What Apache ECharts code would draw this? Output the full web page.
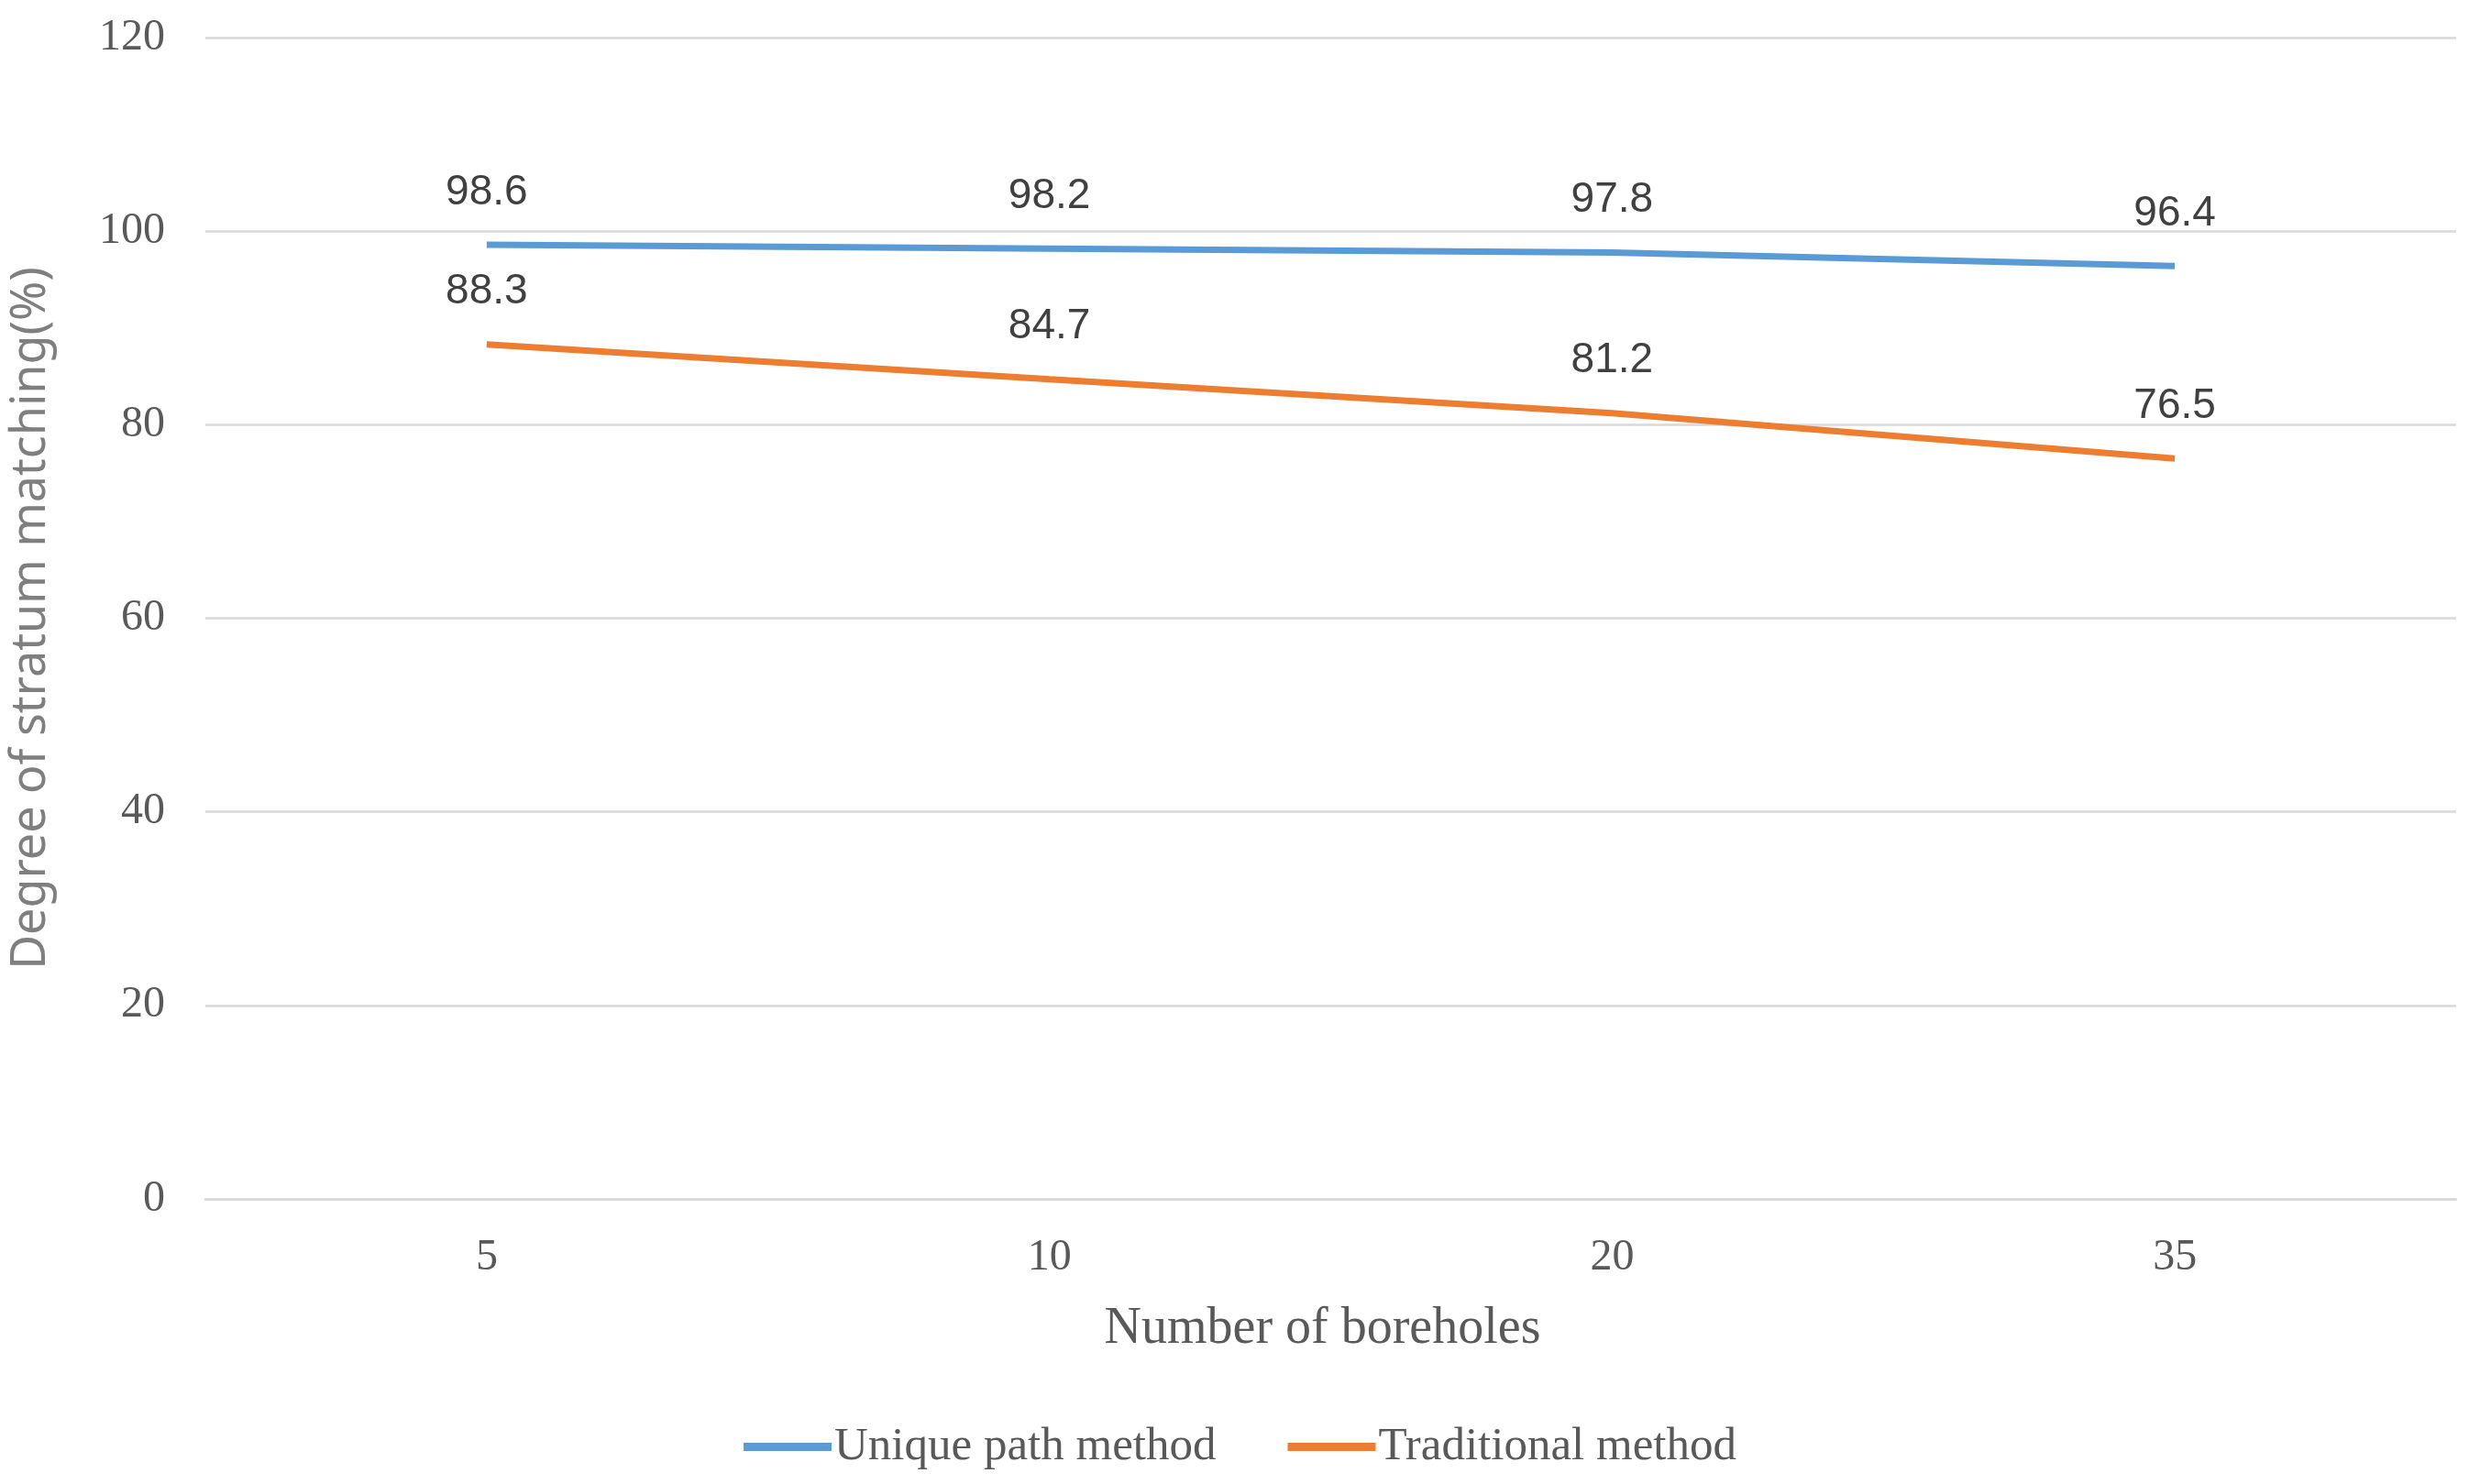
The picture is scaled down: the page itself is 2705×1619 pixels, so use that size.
<!DOCTYPE html>
<html>
<head>
<meta charset="utf-8">
<script src="https://cdn.jsdelivr.net/npm/echarts@6/dist/echarts.min.js"></script>
<style>
html,body{margin:0;padding:0;background:#fff;}
#chart{width:2705px;height:1619px;}
</style>
</head>
<body>
<div id="chart"></div>
<script>
const categories = ['5', '10', '20', '35'];
const uniquePath = [98.6, 98.2, 97.8, 96.4];
const traditional = [88.3, 84.7, 81.2, 76.5];
const seriesNames = ['Unique path method', 'Traditional method'];
const yTicks = { min: 0, max: 120, interval: 20 };

const serif = '"Liberation Serif", "Times New Roman", serif';
const sans = '"Liberation Sans", Arial, sans-serif';

const chart = echarts.init(document.getElementById('chart'));
const labelCfg = {
  show: true,
  position: 'top',
  distance: 34,
  fontFamily: sans,
  fontSize: 46,
  color: '#404040'
};
chart.setOption({
  animation: false,
  backgroundColor: '#ffffff',
  grid: { left: 216, right: 26, top: 41, bottom: 311, containLabel: false },
  legend: {
    data: seriesNames,
    left: 'center',
    top: 1548,
    icon: 'rect',
    itemWidth: 96,
    itemHeight: 9,
    itemGap: 78,
    textStyle: { fontFamily: serif, fontSize: 51, color: '#595959', padding: [0, 0, 0, -2] }
  },
  xAxis: {
    type: 'category',
    data: categories,
    boundaryGap: true,
    name: 'Number of boreholes',
    nameLocation: 'middle',
    nameGap: 114,
    nameTextStyle: { fontFamily: serif, fontSize: 56, color: '#595959', padding: [0, 18, 0, 0] },
    axisLine: { show: true, lineStyle: { color: '#d9d9d9', width: 2.5 } },
    axisTick: { show: false },
    axisLabel: { fontFamily: serif, fontSize: 48, color: '#595959', margin: 40 }
  },
  yAxis: {
    type: 'value',
    min: yTicks.min,
    max: yTicks.max,
    interval: yTicks.interval,
    name: 'Degree of stratum matching(%)',
    nameLocation: 'middle',
    nameGap: 164,
    nameTextStyle: { fontFamily: '"Noto Sans", sans-serif', fontSize: 52, color: '#7f7f7f' },
    axisLine: { show: false },
    axisTick: { show: false },
    axisLabel: { fontFamily: serif, fontSize: 48, color: '#595959', margin: 44 },
    splitLine: { show: true, lineStyle: { color: '#d9d9d9', width: 2.5 } }
  },
  series: [
    {
      name: seriesNames[0],
      type: 'line',
      data: uniquePath,
      showSymbol: true,
      symbol: 'circle',
      symbolSize: 0,
      lineStyle: { color: '#5b9bd5', width: 7 },
      itemStyle: { color: '#5b9bd5' },
      label: labelCfg
    },
    {
      name: seriesNames[1],
      type: 'line',
      data: traditional,
      showSymbol: true,
      symbol: 'circle',
      symbolSize: 0,
      lineStyle: { color: '#ed7d31', width: 7 },
      itemStyle: { color: '#ed7d31' },
      label: labelCfg
    }
  ]
});
</script>
</body>
</html>
